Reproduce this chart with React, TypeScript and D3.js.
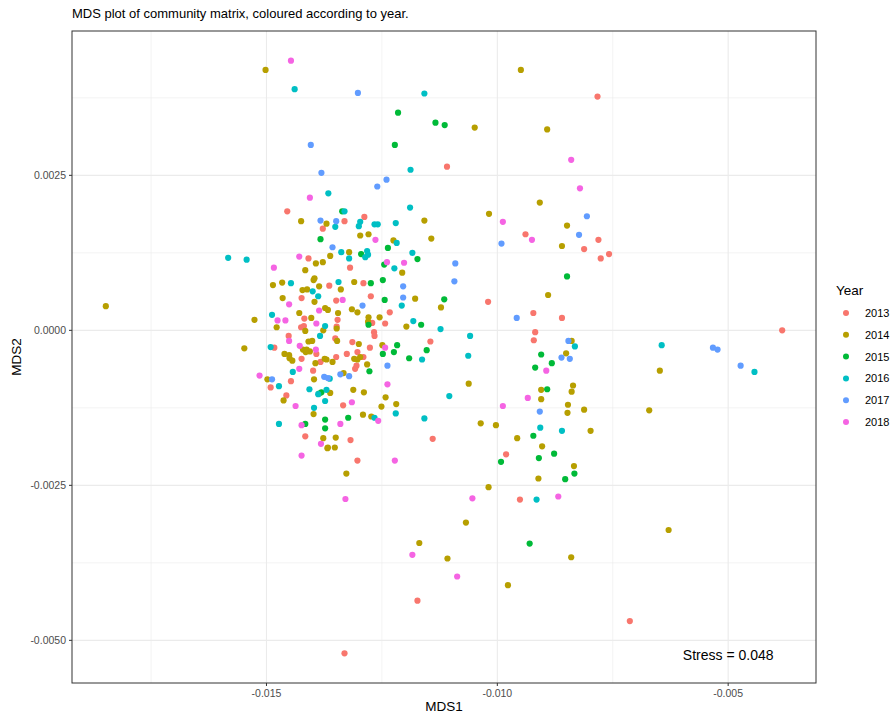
import React from 'react';
import * as d3 from 'd3';

const years = ['2013', '2014', '2015', '2016', '2017', '2018'];
const colours = ['#F8766D', '#B79F00', '#00BA38', '#00BFC4', '#619CFF', '#F564E3'];

const mds1_2013 = [-0.01109, -0.00783, -0.00781, -0.00812, -0.00758, -0.00776, -0.0086, -0.00383, -0.00713, -0.00939, -0.0102, -0.00922, -0.01145, -0.00918, -0.00921, -0.0114, -0.00981, -0.00951, -0.01173, -0.01331, -0.01455, -0.01378, -0.01409, -0.01364, -0.01424, -0.01418, -0.01425, -0.01419, -0.01452, -0.01483, -0.01392, -0.01424, -0.01383, -0.01399, -0.01447, -0.01491, -0.01457, -0.01416, -0.01331, -0.01288, -0.01319, -0.0129, -0.01274, -0.01349, -0.01233, -0.01346, -0.01271, -0.01243, -0.01348, -0.01267, -0.01266, -0.01351, -0.01314, -0.01276, -0.01326, -0.01303, -0.0129, -0.01349, -0.01305, -0.01308, -0.01334, -0.01318, -0.01303];
const mds2_2013 = [0.00264, 0.00377, 0.00146, 0.00131, 0.00123, 0.00116, 0.0002, 0.0, -0.00469, 0.00155, 0.00046, 0.00028, -0.00018, -0.00003, -0.00016, -0.00175, -0.002, -0.00273, -0.00436, -0.00521, 0.00192, 0.00164, 0.00116, 0.00072, 0.00052, 0.00019, 0.00005, 0.00007, -0.00009, -0.00028, -0.00038, -0.00046, -0.00051, -0.00065, -0.00082, -0.00092, -0.00105, -0.00171, 0.00176, 0.00183, 0.00101, 0.00076, 0.00055, 0.00048, 0.00029, 0.00017, 0.00012, 0.00011, 0.00006, -0.00003, -0.00009, -0.00013, -0.00019, -0.00028, -0.00038, -0.00035, -0.00043, -0.00043, -0.00057, -0.00062, -0.00121, -0.00177, -0.0021];

const mds1_2014 = [-0.01502, -0.00949, -0.01049, -0.00892, -0.00908, -0.00849, -0.0086, -0.01018, -0.01143, -0.01122, -0.0089, -0.00839, -0.00851, -0.00648, -0.00836, -0.00839, -0.00847, -0.00848, -0.00812, -0.00671, -0.00798, -0.00834, -0.00629, -0.0084, -0.01062, -0.00905, -0.00905, -0.01036, -0.01003, -0.00957, -0.00903, -0.00911, -0.01019, -0.01327, -0.01068, -0.01169, -0.01108, -0.00977, -0.01848,
  -0.01425, -0.0137, -0.01393, -0.01378, -0.01416, -0.01396, -0.01398, -0.01466, -0.01486, -0.01386, -0.01422, -0.01412, -0.01465, -0.01396, -0.01373, -0.01367, -0.01429, -0.01403, -0.01526, -0.01478, -0.01416, -0.01377, -0.01409, -0.01401, -0.01548, -0.01421, -0.01413, -0.01406, -0.01415, -0.01461, -0.01451, -0.0145, -0.01444, -0.01374, -0.01394, -0.01498, -0.01397, -0.01463, -0.01398, -0.01377, -0.01368,
  -0.01158, -0.01297, -0.01279, -0.01225, -0.01362, -0.01321, -0.01206, -0.0131, -0.01339, -0.01178, -0.01315, -0.01303, -0.01345, -0.01279, -0.01255, -0.0128, -0.01197,
  -0.01348, -0.01347, -0.013, -0.01249, -0.01297, -0.0131, -0.01303, -0.0137, -0.01357, -0.01282, -0.01333, -0.01312, -0.01289, -0.01242, -0.01362, -0.01251, -0.01219, -0.01291, -0.01273, -0.0135, -0.01367, -0.01352];
const mds2_2014 = [0.0042, 0.0042, 0.00327, 0.00324, 0.00206, 0.00169, 0.00136, 0.00188, 0.00148, 0.00037, 0.00057, -0.00017, -0.00037, -0.00065, -0.00089, -0.00099, -0.0012, -0.00133, -0.00128, -0.00129, -0.00162, -0.00219, -0.00322, -0.00366, -0.00086, -0.00096, -0.00111, -0.0015, -0.00153, -0.00174, -0.00187, -0.00239, -0.00253, -0.00231, -0.0031, -0.00343, -0.00368, -0.00411, 0.00039,
  0.00176, 0.00172, 0.00108, 0.0011, 0.00097, 0.00084, 0.00081, 0.00077, 0.00073, 0.00071, 0.00065, 0.00066, 0.00052, 0.00046, 0.00036, 0.00033, 0.00028, 0.0002, 0.00017, 0.00005, -0.00001, 0.0, -0.00018, -0.00017, -0.00029, -0.00031, -0.00031, -0.00034, -0.00035, -0.00038, -0.0004, -0.00045, -0.00049, -0.00046, -0.00053, -0.00079, -0.00079, -0.00113, -0.00135, -0.00174, -0.0019,
  0.00177, 0.00153, 0.00155, 0.00145, 0.0012, 0.00126, 0.00093, 0.00078, 0.00066, 0.00051, 0.00034, 0.00029, 0.00028, 0.00021, 0.00021, 0.00014, 0.00006,
  0.00003, -0.00017, -0.00022, -0.00024, -0.00043, -0.00046, -0.00047, -0.00047, -0.00051, -0.00055, -0.00069, -0.00096, -0.001, -0.00108, -0.00101, -0.00123, -0.00119, -0.00136, -0.00139, -0.00173, -0.00189, -0.00189];

const mds1_2015 = [-0.01215, -0.01134, -0.01114, -0.01222, -0.00849, -0.00833, -0.00853, -0.01115, -0.00905, -0.00882, -0.00918, -0.00892, -0.00922, -0.00877, -0.00992, -0.0091, -0.0093, -0.01383, -0.01381, -0.01386, -0.01373, -0.01416, -0.01373, -0.01336, -0.01237, -0.01295, -0.01173, -0.01245, -0.01248, -0.01274, -0.01244, -0.01279, -0.01165, -0.01217, -0.01153, -0.01248, -0.01224, -0.01191, -0.01277, -0.01323];
const mds2_2015 = [0.00351, 0.00335, 0.00331, 0.00299, 0.00087, -0.00231, -0.0024, 0.0005, -0.00039, -0.00053, -0.0006, -0.00095, -0.0017, -0.00199, -0.00212, -0.00206, -0.00344, 0.00147, -0.001, -0.00102, -0.00144, -0.00151, -0.00158, 0.00192, 0.00133, 0.00123, 0.00115, 0.00106, 0.00081, 0.00076, 0.00049, 0.00009, 0.00009, -0.00024, -0.00032, -0.00038, -0.00035, -0.00045, -0.00066, -0.00141];

const mds1_2016 = [-0.01439, -0.01158, -0.01188, -0.01366, -0.00832, -0.00644, -0.00443, -0.0086, -0.01123, -0.01059, -0.01063, -0.01104, -0.00907, -0.00915, -0.01583, -0.01543, -0.01447, -0.014, -0.01388, -0.01488, -0.01373, -0.01384, -0.01491, -0.01443, -0.01473, -0.01407, -0.01388, -0.0137, -0.01373, -0.01397, -0.01473, -0.01331, -0.01297, -0.013, -0.01351, -0.01266, -0.01259, -0.0122, -0.01189, -0.01218, -0.01338, -0.01321, -0.01282, -0.0128, -0.01286, -0.01184, -0.01223, -0.01344, -0.01207, -0.01182, -0.01163, -0.01363, -0.0122, -0.01158, -0.01266];
const mds2_2016 = [0.00389, 0.00382, 0.00259, 0.00221, -0.00026, -0.00024, -0.00067, -0.00162, 0.00002, -0.00009, -0.00041, -0.00106, -0.00157, -0.00273, 0.00117, 0.00114, 0.00076, 0.00063, 0.00055, 0.00025, 0.00007, -0.00009, -0.00027, -0.00067, -0.0009, -0.00095, -0.00103, -0.00096, -0.00114, -0.00125, -0.00151, 0.00192, 0.00175, 0.00168, 0.00167, 0.00171, 0.00171, 0.00173, 0.00198, 0.00141, 0.00126, 0.00116, 0.00128, 0.00122, 0.00118, 0.00125, 0.001, 0.00078, 0.0004, 0.00015, -0.00047, -0.00078, -0.00134, -0.00142, -0.00141];

const mds1_2017 = [-0.01302, -0.01404, -0.01381, -0.0124, -0.0126, -0.00806, -0.00823, -0.00846, -0.00861, -0.00843, -0.00533, -0.00523, -0.00473, -0.00991, -0.01091, -0.01093, -0.00958, -0.00908, -0.01383, -0.01488, -0.01375, -0.01367, -0.01349, -0.01357, -0.01204, -0.01204, -0.01292, -0.01238, -0.0134, -0.01321];
const mds2_2017 = [0.00383, 0.00299, 0.00254, 0.00243, 0.00232, 0.00184, 0.00154, -0.00017, -0.00044, -0.00046, -0.00028, -0.00031, -0.00057, 0.0014, 0.00108, 0.00079, 0.0002, -0.00131, 0.00177, -0.00079, -0.00075, -0.00077, 0.00176, 0.00134, 0.00071, 0.00053, 0.0004, -0.00057, -0.00071, -0.00074];

const mds1_2018 = [-0.01447, -0.01406, -0.0084, -0.00821, -0.00988, -0.00925, -0.00894, -0.00934, -0.00988, -0.00868, -0.01329, -0.01054, -0.01184, -0.01087, -0.01429, -0.01484, -0.01451, -0.01386, -0.01476, -0.01459, -0.01392, -0.01451, -0.01428, -0.01393, -0.01429, -0.01515, -0.01437, -0.01424, -0.01382, -0.01424, -0.01264, -0.01239, -0.01202, -0.01335, -0.01243, -0.01238, -0.01315, -0.01258, -0.0134, -0.01222];
const mds2_2018 = [0.00435, 0.00214, 0.00275, 0.00229, 0.00175, 0.00146, -0.00065, -0.00109, -0.00122, -0.00268, -0.00272, -0.00271, -0.00362, -0.00397, 0.00119, 0.00101, 0.00042, 0.00032, 0.00016, 0.00016, 0.00011, -0.00017, -0.00025, -0.00031, -0.00062, -0.00073, -0.00122, -0.00153, -0.00183, -0.00202, 0.00146, 0.0011, 0.00109, 0.00049, -0.00028, -0.00087, -0.00116, -0.00146, -0.00151, -0.0021];

const mds1ByYear = [mds1_2013, mds1_2014, mds1_2015, mds1_2016, mds1_2017, mds1_2018];
const mds2ByYear = [mds2_2013, mds2_2014, mds2_2015, mds2_2016, mds2_2017, mds2_2018];

const xTicks = [-0.015, -0.01, -0.005];
const yTicks = [-0.005, -0.0025, 0, 0.0025];
const stressLabel = 'Stress = 0.048';

const W = 893;
const H = 717;
const panel = { left: 72, right: 816, top: 31, bottom: 683 };
const font = 'Liberation Sans, Arial, Helvetica, sans-serif';

function padded(ext: [number, number]): [number, number] {
  const r = ext[1] - ext[0];
  return [ext[0] - r * 0.05, ext[1] + r * 0.05];
}

// ggplot prints a plain hyphen, d3.format gives a unicode minus
const hyphen = (s: string) => s.replace('\u2212', '-');

export default function App() {
  const points = years.flatMap((yr, i) =>
    mds1ByYear[i].map((x, j) => ({ year: yr, colour: colours[i], x, y: mds2ByYear[i][j] }))
  );

  const xScale = d3.scaleLinear()
    .domain(padded(d3.extent(points, d => d.x) as [number, number]))
    .range([panel.left, panel.right]);
  const yScale = d3.scaleLinear()
    .domain(padded(d3.extent(points, d => d.y) as [number, number]))
    .range([panel.bottom, panel.top]);

  // minor grid lines sit halfway between the major breaks
  const xMinor = [xTicks[0] - 0.0025, ...xTicks.map(t => t + 0.0025)]
    .filter(v => xScale(v) > panel.left && xScale(v) < panel.right);
  const yMinor = [yTicks[0] - 0.00125, ...yTicks.map(t => t + 0.00125)]
    .filter(v => yScale(v) > panel.top && yScale(v) < panel.bottom);

  const fmtX = (v: number) => hyphen(d3.format('.3f')(v));
  const fmtY = (v: number) => hyphen(d3.format('.4f')(v));

  return (
    <svg width={W} height={H} style={{ position: 'absolute', left: 0, top: 0, background: '#fff' }} fontFamily={font}>
      <text x={panel.left} y={18} fontSize={13} fill="#000">
        MDS plot of community matrix, coloured according to year.
      </text>

      <rect x={panel.left} y={panel.top} width={panel.right - panel.left} height={panel.bottom - panel.top} fill="#fff" />
      {xMinor.map(v => (
        <line key={'xm' + v} x1={xScale(v)} x2={xScale(v)} y1={panel.top} y2={panel.bottom} stroke="#EBEBEB" strokeWidth={0.6} />
      ))}
      {yMinor.map(v => (
        <line key={'ym' + v} x1={panel.left} x2={panel.right} y1={yScale(v)} y2={yScale(v)} stroke="#EBEBEB" strokeWidth={0.6} />
      ))}
      {xTicks.map(v => (
        <line key={'xg' + v} x1={xScale(v)} x2={xScale(v)} y1={panel.top} y2={panel.bottom} stroke="#EBEBEB" strokeWidth={1.1} />
      ))}
      {yTicks.map(v => (
        <line key={'yg' + v} x1={panel.left} x2={panel.right} y1={yScale(v)} y2={yScale(v)} stroke="#EBEBEB" strokeWidth={1.1} />
      ))}

      {points.map((p, i) => (
        <circle key={i} cx={xScale(p.x)} cy={yScale(p.y)} r={3.1} fill={p.colour} />
      ))}

      <text x={xScale(-0.005)} y={yScale(-0.00524) + 5} fontSize={14} textAnchor="middle" fill="#000">
        {stressLabel}
      </text>

      <rect x={panel.left} y={panel.top} width={panel.right - panel.left} height={panel.bottom - panel.top} fill="none" stroke="#333333" strokeWidth={1} />

      {xTicks.map(v => (
        <g key={'xt' + v}>
          <line x1={xScale(v)} x2={xScale(v)} y1={panel.bottom} y2={panel.bottom + 3} stroke="#333333" />
          <text x={xScale(v)} y={panel.bottom + 14} fontSize={10.5} textAnchor="middle" fill="#4D4D4D">{fmtX(v)}</text>
        </g>
      ))}
      {yTicks.map(v => (
        <g key={'yt' + v}>
          <line x1={panel.left - 3} x2={panel.left} y1={yScale(v)} y2={yScale(v)} stroke="#333333" />
          <text x={panel.left - 6} y={yScale(v) + 3.5} fontSize={10.5} textAnchor="end" fill="#4D4D4D">{fmtY(v)}</text>
        </g>
      ))}

      <text x={(panel.left + panel.right) / 2} y={711} fontSize={13.5} textAnchor="middle" fill="#000">MDS1</text>
      <text transform={`translate(21, ${(panel.top + panel.bottom) / 2}) rotate(-90)`} fontSize={13.5} textAnchor="middle" fill="#000">MDS2</text>

      <g transform="translate(836, 0)">
        <text x={0} y={295} fontSize={13.5} fill="#000">Year</text>
        {years.map((yr, i) => (
          <g key={yr} transform={`translate(0, ${313 + i * 21.8})`}>
            <circle cx={10} cy={0} r={3} fill={colours[i]} />
            <text x={29} y={4} fontSize={11} fill="#000">{yr}</text>
          </g>
        ))}
      </g>
    </svg>
  );
}
